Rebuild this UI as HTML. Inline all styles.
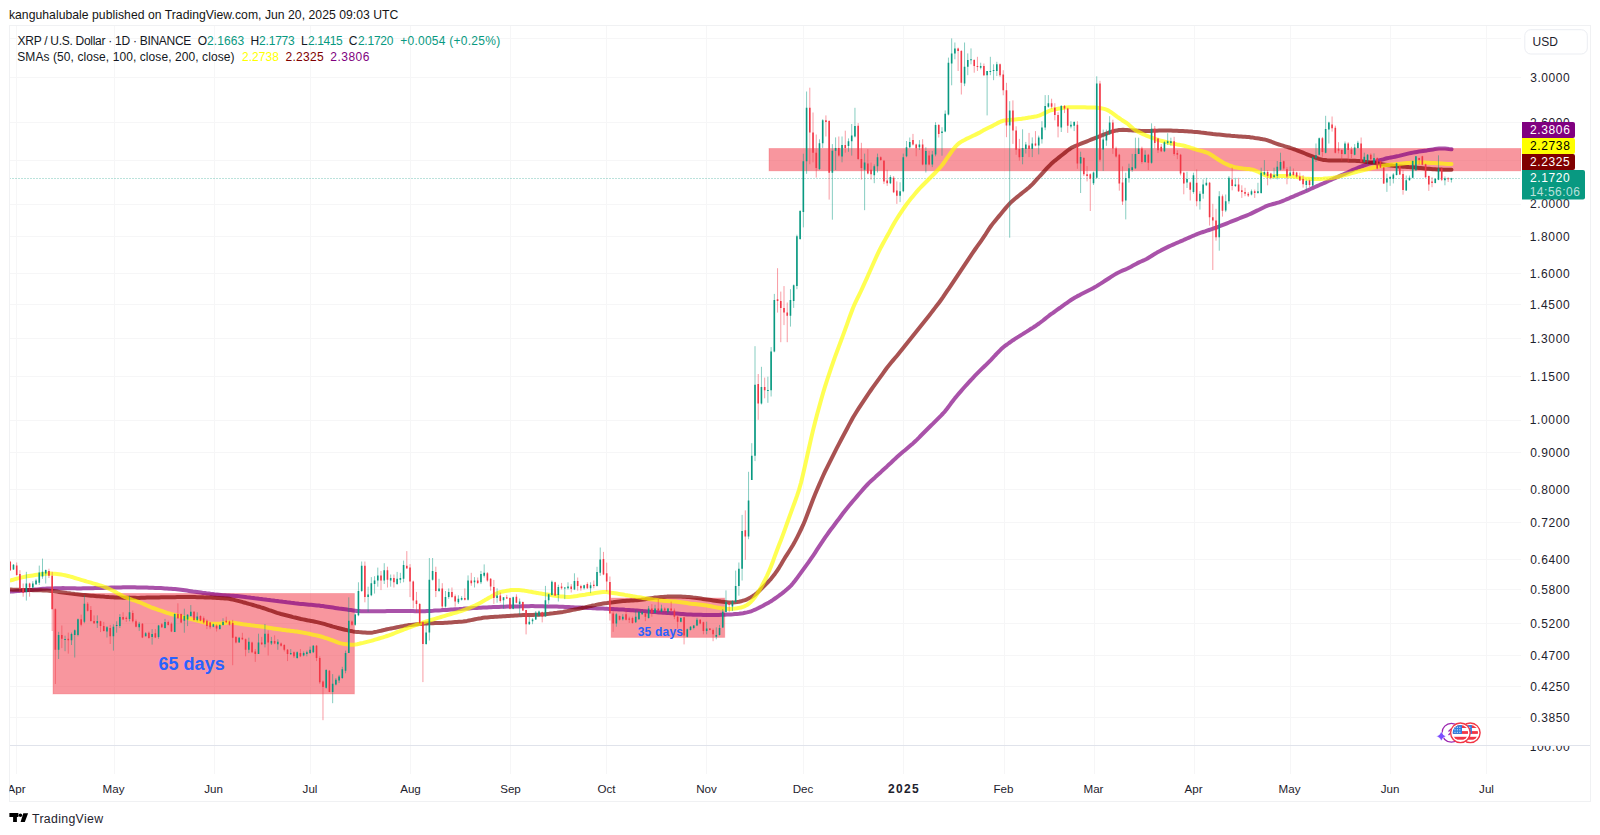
<!DOCTYPE html>
<html><head><meta charset="utf-8"><style>
html,body{margin:0;padding:0;background:#fff;}
body{width:1600px;height:835px;overflow:hidden;position:relative;font-family:'Liberation Sans',sans-serif;}
</style></head><body>
<svg width="1600" height="835" viewBox="0 0 1600 835" style="position:absolute;left:0;top:0;font-family:'Liberation Sans',sans-serif">
<rect width="1600" height="835" fill="#ffffff"/>
<defs><clipPath id="pane"><rect x="9.5" y="25.5" width="1511.5" height="720"/></clipPath><clipPath id="pane2"><rect x="9.5" y="746" width="1581" height="28"/></clipPath></defs>
<text x="8.93" y="19.2" font-size="12.2" fill="#141414" textLength="389.44" lengthAdjust="spacing" >kanguhalubale published on TradingView.com, Jun 20, 2025 09:03 UTC</text>
<path d="M9.5 38.5H1521 M9.5 77.5H1521 M9.5 122.5H1521 M9.5 160.5H1521 M9.5 204.5H1521 M9.5 236.5H1521 M9.5 273.5H1521 M9.5 304.5H1521 M9.5 338.5H1521 M9.5 376.5H1521 M9.5 420.5H1521 M9.5 452.5H1521 M9.5 489.5H1521 M9.5 522.5H1521 M9.5 559.5H1521 M9.5 589.5H1521 M9.5 623.5H1521 M9.5 655.5H1521 M9.5 686.5H1521 M9.5 717.5H1521 M16.5 25.5V774 M114.5 25.5V774 M214.5 25.5V774 M310.5 25.5V774 M410.5 25.5V774 M510.5 25.5V774 M606.5 25.5V774 M706.5 25.5V774 M803.5 25.5V774 M903.5 25.5V774 M1004.5 25.5V774 M1094.5 25.5V774 M1194.5 25.5V774 M1290.5 25.5V774 M1390.5 25.5V774 M1486.5 25.5V774" stroke="#F6F6F7" stroke-width="1" fill="none"/>
<g clip-path="url(#pane)">
<rect x="53" y="593.5" width="301.4" height="100.4" fill="rgba(242,54,69,0.52)" stroke="rgba(242,54,69,0.25)" stroke-width="1"/>
<rect x="611.2" y="598.1" width="113.5" height="39.3" fill="rgba(242,54,69,0.52)" stroke="rgba(242,54,69,0.25)" stroke-width="1"/>
<rect x="769" y="148.5" width="752" height="22.3" fill="rgba(242,54,69,0.52)" stroke="rgba(242,54,69,0.25)" stroke-width="1"/>
<path d="M9.5 178.5H1521" stroke="#089981" stroke-width="1" stroke-dasharray="1 2" opacity="0.55"/>
<polyline points="9.0,591.7 11.0,591.6 13.0,591.5 15.0,591.3 17.0,591.1 19.0,591.0 21.0,590.8 23.0,590.7 25.0,590.5 27.0,590.3 29.0,590.1 31.0,589.9 33.0,589.7 35.0,589.5 37.0,589.4 39.0,589.2 41.0,589.0 43.0,588.8 45.0,588.7 47.0,588.6 49.0,588.5 51.0,588.4 53.0,588.4 55.0,588.3 57.0,588.2 59.0,588.2 61.0,588.2 63.0,588.1 65.0,588.2 67.0,588.2 69.0,588.2 71.0,588.3 73.0,588.3 75.0,588.3 77.0,588.4 79.0,588.4 81.0,588.4 83.0,588.3 85.0,588.3 87.0,588.3 89.0,588.2 91.0,588.2 93.0,588.2 95.0,588.1 97.0,588.1 99.0,588.0 101.0,587.9 103.0,587.9 105.0,587.8 107.0,587.7 109.0,587.7 111.0,587.6 113.0,587.5 115.0,587.5 117.0,587.4 119.0,587.4 121.0,587.4 123.0,587.3 125.0,587.3 127.0,587.3 129.0,587.2 131.0,587.2 133.0,587.3 135.0,587.3 137.0,587.4 139.0,587.4 141.0,587.5 143.0,587.5 145.0,587.6 147.0,587.6 149.0,587.7 151.0,587.8 153.0,587.8 155.0,587.9 157.0,587.9 159.0,588.0 161.0,588.1 163.0,588.2 165.0,588.4 167.0,588.5 169.0,588.7 171.0,588.8 173.0,589.0 175.0,589.1 177.0,589.3 179.0,589.5 181.0,589.7 183.0,590.0 185.0,590.3 187.0,590.6 189.0,590.9 191.0,591.2 193.0,591.5 195.0,591.7 197.0,592.0 199.0,592.3 201.0,592.6 203.0,592.9 205.0,593.1 207.0,593.4 209.0,593.6 211.0,593.9 213.0,594.1 215.0,594.4 217.0,594.6 219.0,594.8 221.0,595.0 223.0,595.2 225.0,595.3 227.0,595.5 229.0,595.6 231.0,595.7 233.0,595.8 235.0,596.0 237.0,596.1 239.0,596.3 241.0,596.5 243.0,596.7 245.0,596.9 247.0,597.2 249.0,597.4 251.0,597.7 253.0,597.9 255.0,598.2 257.0,598.4 259.0,598.7 261.0,598.9 263.0,599.2 265.0,599.4 267.0,599.7 269.0,599.9 271.0,600.2 273.0,600.4 275.0,600.7 277.0,600.9 279.0,601.2 281.0,601.4 283.0,601.7 285.0,601.9 287.0,602.2 289.0,602.4 291.0,602.7 293.0,602.9 295.0,603.2 297.0,603.4 299.0,603.7 301.0,603.9 303.0,604.1 305.0,604.3 307.0,604.5 309.0,604.7 311.0,604.8 313.0,605.0 315.0,605.2 317.0,605.4 319.0,605.6 321.0,605.9 323.0,606.1 325.0,606.4 327.0,606.7 329.0,607.0 331.0,607.3 333.0,607.6 335.0,607.9 337.0,608.2 339.0,608.5 341.0,608.7 343.0,609.0 345.0,609.3 347.0,609.6 349.0,609.9 351.0,610.1 353.0,610.4 355.0,610.7 357.0,611.0 359.0,611.1 361.0,611.3 363.0,611.3 365.0,611.3 367.0,611.3 369.0,611.3 371.0,611.3 373.0,611.3 375.0,611.3 377.0,611.3 379.0,611.3 381.0,611.2 383.0,611.2 385.0,611.2 387.0,611.1 389.0,611.1 391.0,611.0 393.0,611.0 395.0,611.0 397.0,610.9 399.0,610.9 401.0,611.0 403.0,611.0 405.0,611.0 407.0,611.0 409.0,611.1 411.0,611.1 413.0,611.1 415.0,611.2 417.0,611.2 419.0,611.2 421.0,611.2 423.0,611.2 425.0,611.2 427.0,611.1 429.0,611.0 431.0,610.9 433.0,610.8 435.0,610.6 437.0,610.5 439.0,610.4 441.0,610.3 443.0,610.1 445.0,610.0 447.0,609.9 449.0,609.7 451.0,609.6 453.0,609.5 455.0,609.3 457.0,609.2 459.0,609.1 461.0,608.9 463.0,608.8 465.0,608.6 467.0,608.5 469.0,608.4 471.0,608.2 473.0,608.1 475.0,608.0 477.0,607.9 479.0,607.8 481.0,607.7 483.0,607.6 485.0,607.5 487.0,607.4 489.0,607.3 491.0,607.2 493.0,607.1 495.0,607.1 497.0,607.0 499.0,606.9 501.0,606.8 503.0,606.7 505.0,606.7 507.0,606.6 509.0,606.6 511.0,606.5 513.0,606.5 515.0,606.4 517.0,606.4 519.0,606.4 521.0,606.3 523.0,606.3 525.0,606.2 527.0,606.2 529.0,606.2 531.0,606.1 533.0,606.1 535.0,606.2 537.0,606.2 539.0,606.3 541.0,606.3 543.0,606.3 545.0,606.4 547.0,606.4 549.0,606.5 551.0,606.5 553.0,606.5 555.0,606.6 557.0,606.6 559.0,606.7 561.0,606.7 563.0,606.8 565.0,606.9 567.0,607.0 569.0,607.1 571.0,607.2 573.0,607.3 575.0,607.4 577.0,607.5 579.0,607.5 581.0,607.6 583.0,607.7 585.0,607.8 587.0,607.9 589.0,608.0 591.0,608.1 593.0,608.2 595.0,608.3 597.0,608.4 599.0,608.4 601.0,608.5 603.0,608.6 605.0,608.7 607.0,608.8 609.0,608.9 611.0,609.0 613.0,609.1 615.0,609.2 617.0,609.3 619.0,609.4 621.0,609.5 623.0,609.6 625.0,609.8 627.0,609.9 629.0,610.0 631.0,610.2 633.0,610.3 635.0,610.5 637.0,610.6 639.0,610.7 641.0,610.9 643.0,611.1 645.0,611.2 647.0,611.4 649.0,611.6 651.0,611.7 653.0,611.9 655.0,612.1 657.0,612.2 659.0,612.4 661.0,612.6 663.0,612.7 665.0,612.8 667.0,613.0 669.0,613.1 671.0,613.2 673.0,613.3 675.0,613.5 677.0,613.6 679.0,613.7 681.0,613.9 683.0,614.0 685.0,614.2 687.0,614.4 689.0,614.5 691.0,614.6 693.0,614.7 695.0,614.7 697.0,614.7 699.0,614.8 701.0,614.8 703.0,614.9 705.0,614.9 707.0,614.9 709.0,615.0 711.0,615.0 713.0,615.0 715.0,614.9 717.0,614.9 719.0,614.9 721.0,614.8 723.0,614.8 725.0,614.7 727.0,614.6 729.0,614.5 731.0,614.4 733.0,614.3 735.0,614.1 737.0,613.9 739.0,613.7 741.0,613.4 743.0,613.2 745.0,612.8 747.0,612.4 749.0,611.9 751.0,611.3 753.0,610.5 755.0,609.7 757.0,608.8 759.0,607.8 761.0,606.7 763.0,605.7 765.0,604.6 767.0,603.5 769.0,602.4 771.0,601.2 773.0,599.9 775.0,598.5 777.0,597.1 779.0,595.7 781.0,594.2 783.0,592.6 785.0,591.0 787.0,589.3 789.0,587.5 791.0,585.6 793.0,583.3 795.0,580.8 797.0,578.1 799.0,575.4 801.0,572.6 803.0,569.9 805.0,567.1 807.0,564.4 809.0,561.6 811.0,558.7 813.0,555.8 815.0,552.8 817.0,549.7 819.0,546.7 821.0,543.7 823.0,540.7 825.0,537.7 827.0,534.8 829.0,532.0 831.0,529.3 833.0,526.7 835.0,524.0 837.0,521.3 839.0,518.7 841.0,516.0 843.0,513.3 845.0,510.7 847.0,508.2 849.0,505.7 851.0,503.4 853.0,501.0 855.0,498.7 857.0,496.4 859.0,494.0 861.0,491.7 863.0,489.4 865.0,487.1 867.0,485.0 869.0,482.9 871.0,481.0 873.0,479.2 875.0,477.4 877.0,475.5 879.0,473.7 881.0,471.9 883.0,470.0 885.0,468.2 887.0,466.4 889.0,464.5 891.0,462.7 893.0,460.8 895.0,458.9 897.0,457.1 899.0,455.3 901.0,453.5 903.0,451.8 905.0,450.2 907.0,448.5 909.0,446.8 911.0,445.1 913.0,443.4 915.0,441.5 917.0,439.6 919.0,437.6 921.0,435.5 923.0,433.5 925.0,431.5 927.0,429.5 929.0,427.5 931.0,425.5 933.0,423.6 935.0,421.6 937.0,419.6 939.0,417.6 941.0,415.6 943.0,413.5 945.0,411.3 947.0,408.8 949.0,406.1 951.0,403.3 953.0,400.7 955.0,398.1 957.0,395.7 959.0,393.4 961.0,391.1 963.0,388.8 965.0,386.5 967.0,384.3 969.0,382.1 971.0,380.0 973.0,377.8 975.0,375.7 977.0,373.7 979.0,371.7 981.0,369.7 983.0,367.7 985.0,365.8 987.0,363.8 989.0,361.8 991.0,359.8 993.0,357.7 995.0,355.5 997.0,353.4 999.0,351.3 1001.0,349.3 1003.0,347.5 1005.0,345.9 1007.0,344.5 1009.0,343.0 1011.0,341.6 1013.0,340.2 1015.0,338.9 1017.0,337.6 1019.0,336.4 1021.0,335.1 1023.0,333.9 1025.0,332.6 1027.0,331.4 1029.0,330.1 1031.0,328.8 1033.0,327.6 1035.0,326.3 1037.0,324.9 1039.0,323.5 1041.0,322.0 1043.0,320.5 1045.0,318.9 1047.0,317.3 1049.0,315.7 1051.0,314.2 1053.0,312.8 1055.0,311.3 1057.0,309.9 1059.0,308.5 1061.0,307.1 1063.0,305.6 1065.0,304.2 1067.0,302.8 1069.0,301.4 1071.0,300.0 1073.0,298.7 1075.0,297.5 1077.0,296.4 1079.0,295.4 1081.0,294.3 1083.0,293.3 1085.0,292.3 1087.0,291.3 1089.0,290.3 1091.0,289.3 1093.0,288.2 1095.0,287.1 1097.0,285.9 1099.0,284.6 1101.0,283.4 1103.0,282.1 1105.0,280.8 1107.0,279.5 1109.0,278.2 1111.0,276.9 1113.0,275.6 1115.0,274.4 1117.0,273.2 1119.0,272.2 1121.0,271.3 1123.0,270.4 1125.0,269.6 1127.0,268.7 1129.0,267.7 1131.0,266.7 1133.0,265.6 1135.0,264.5 1137.0,263.4 1139.0,262.4 1141.0,261.5 1143.0,260.6 1145.0,259.7 1147.0,258.7 1149.0,257.5 1151.0,256.3 1153.0,255.0 1155.0,253.8 1157.0,252.6 1159.0,251.5 1161.0,250.4 1163.0,249.4 1165.0,248.4 1167.0,247.4 1169.0,246.4 1171.0,245.5 1173.0,244.6 1175.0,243.7 1177.0,242.8 1179.0,242.0 1181.0,241.1 1183.0,240.3 1185.0,239.4 1187.0,238.5 1189.0,237.6 1191.0,236.7 1193.0,235.8 1195.0,235.0 1197.0,234.1 1199.0,233.4 1201.0,232.7 1203.0,232.0 1205.0,231.4 1207.0,230.7 1209.0,230.0 1211.0,229.3 1213.0,228.7 1215.0,228.0 1217.0,227.3 1219.0,226.5 1221.0,225.7 1223.0,224.9 1225.0,224.1 1227.0,223.3 1229.0,222.5 1231.0,221.7 1233.0,220.9 1235.0,220.1 1237.0,219.3 1239.0,218.5 1241.0,217.7 1243.0,216.9 1245.0,216.1 1247.0,215.3 1249.0,214.5 1251.0,213.6 1253.0,212.6 1255.0,211.6 1257.0,210.6 1259.0,209.7 1261.0,208.7 1263.0,207.7 1265.0,206.7 1267.0,205.9 1269.0,205.2 1271.0,204.6 1273.0,204.0 1275.0,203.5 1277.0,202.9 1279.0,202.3 1281.0,201.6 1283.0,200.8 1285.0,200.0 1287.0,199.1 1289.0,198.3 1291.0,197.4 1293.0,196.6 1295.0,195.7 1297.0,194.9 1299.0,194.0 1301.0,193.2 1303.0,192.3 1305.0,191.5 1307.0,190.6 1309.0,189.7 1311.0,188.8 1313.0,187.9 1315.0,187.0 1317.0,186.1 1319.0,185.2 1321.0,184.3 1323.0,183.5 1325.0,182.6 1327.0,181.7 1329.0,180.8 1331.0,179.9 1333.0,179.0 1335.0,178.1 1337.0,177.2 1339.0,176.3 1341.0,175.4 1343.0,174.5 1345.0,173.6 1347.0,172.7 1349.0,171.8 1351.0,170.9 1353.0,169.9 1355.0,169.1 1357.0,168.2 1359.0,167.3 1361.0,166.6 1363.0,165.8 1365.0,165.1 1367.0,164.4 1369.0,163.7 1371.0,163.0 1373.0,162.4 1375.0,161.8 1377.0,161.1 1379.0,160.5 1381.0,159.9 1383.0,159.4 1385.0,158.8 1387.0,158.3 1389.0,157.9 1391.0,157.5 1393.0,157.1 1395.0,156.7 1397.0,156.3 1399.0,155.9 1401.0,155.4 1403.0,154.9 1405.0,154.4 1407.0,153.9 1409.0,153.4 1411.0,153.0 1413.0,152.6 1415.0,152.2 1417.0,151.9 1419.0,151.6 1421.0,151.3 1423.0,151.0 1425.0,150.7 1427.0,150.4 1429.0,150.0 1431.0,149.7 1433.0,149.4 1435.0,149.1 1437.0,148.8 1439.0,148.6 1441.0,148.5 1443.0,148.4 1445.0,148.5 1447.0,148.7 1449.0,149.0 1451.0,149.2 1451.5,149.3" fill="none" stroke="#800080" stroke-opacity="0.68" stroke-width="4" stroke-linejoin="round" stroke-linecap="round"/>
<polyline points="9.0,589.6 11.0,589.6 13.0,589.7 15.0,589.7 17.0,589.8 19.0,589.8 21.0,589.9 23.0,589.9 25.0,590.0 27.0,590.0 29.0,590.1 31.0,590.1 33.0,590.2 35.0,590.2 37.0,590.2 39.0,590.3 41.0,590.3 43.0,590.4 45.0,590.5 47.0,590.6 49.0,590.7 51.0,590.9 53.0,591.0 55.0,591.3 57.0,591.6 59.0,591.9 61.0,592.2 63.0,592.5 65.0,592.8 67.0,593.1 69.0,593.3 71.0,593.6 73.0,593.8 75.0,594.1 77.0,594.3 79.0,594.5 81.0,594.7 83.0,594.9 85.0,595.1 87.0,595.3 89.0,595.5 91.0,595.7 93.0,595.8 95.0,596.0 97.0,596.2 99.0,596.3 101.0,596.5 103.0,596.6 105.0,596.8 107.0,596.9 109.0,597.1 111.0,597.2 113.0,597.3 115.0,597.4 117.0,597.5 119.0,597.6 121.0,597.6 123.0,597.7 125.0,597.7 127.0,597.8 129.0,597.8 131.0,597.8 133.0,597.8 135.0,597.8 137.0,597.9 139.0,597.9 141.0,597.8 143.0,597.8 145.0,597.7 147.0,597.6 149.0,597.6 151.0,597.5 153.0,597.5 155.0,597.4 157.0,597.4 159.0,597.4 161.0,597.3 163.0,597.3 165.0,597.3 167.0,597.2 169.0,597.2 171.0,597.2 173.0,597.2 175.0,597.2 177.0,597.1 179.0,597.1 181.0,597.1 183.0,597.1 185.0,597.1 187.0,597.0 189.0,597.0 191.0,597.0 193.0,597.1 195.0,597.1 197.0,597.2 199.0,597.2 201.0,597.3 203.0,597.3 205.0,597.4 207.0,597.4 209.0,597.5 211.0,597.6 213.0,597.7 215.0,597.8 217.0,598.0 219.0,598.1 221.0,598.2 223.0,598.3 225.0,598.5 227.0,598.6 229.0,598.8 231.0,599.2 233.0,599.6 235.0,600.1 237.0,600.6 239.0,601.1 241.0,601.6 243.0,602.2 245.0,602.7 247.0,603.3 249.0,603.9 251.0,604.4 253.0,605.0 255.0,605.6 257.0,606.2 259.0,606.7 261.0,607.4 263.0,608.0 265.0,608.7 267.0,609.4 269.0,610.1 271.0,610.7 273.0,611.4 275.0,612.1 277.0,612.8 279.0,613.4 281.0,614.0 283.0,614.5 285.0,615.0 287.0,615.5 289.0,616.0 291.0,616.5 293.0,617.1 295.0,617.5 297.0,618.0 299.0,618.5 301.0,619.0 303.0,619.4 305.0,619.8 307.0,620.2 309.0,620.6 311.0,620.9 313.0,621.3 315.0,621.7 317.0,622.1 319.0,622.6 321.0,623.1 323.0,623.6 325.0,624.2 327.0,624.8 329.0,625.4 331.0,626.0 333.0,626.6 335.0,627.1 337.0,627.7 339.0,628.2 341.0,628.7 343.0,629.2 345.0,629.7 347.0,630.1 349.0,630.6 351.0,631.0 353.0,631.4 355.0,631.7 357.0,631.9 359.0,632.1 361.0,632.2 363.0,632.4 365.0,632.5 367.0,632.7 369.0,632.8 371.0,632.7 373.0,632.4 375.0,632.0 377.0,631.6 379.0,631.1 381.0,630.7 383.0,630.2 385.0,629.8 387.0,629.3 389.0,628.9 391.0,628.5 393.0,628.1 395.0,627.7 397.0,627.3 399.0,626.9 401.0,626.5 403.0,626.1 405.0,625.7 407.0,625.4 409.0,625.1 411.0,624.9 413.0,624.7 415.0,624.5 417.0,624.3 419.0,624.1 421.0,623.9 423.0,623.7 425.0,623.6 427.0,623.4 429.0,623.3 431.0,623.3 433.0,623.2 435.0,623.1 437.0,623.1 439.0,623.0 441.0,622.9 443.0,622.9 445.0,622.8 447.0,622.7 449.0,622.5 451.0,622.4 453.0,622.2 455.0,622.1 457.0,622.0 459.0,621.8 461.0,621.7 463.0,621.5 465.0,621.2 467.0,620.9 469.0,620.5 471.0,620.1 473.0,619.7 475.0,619.3 477.0,618.9 479.0,618.5 481.0,618.2 483.0,617.8 485.0,617.6 487.0,617.4 489.0,617.2 491.0,617.1 493.0,617.0 495.0,616.8 497.0,616.7 499.0,616.6 501.0,616.4 503.0,616.3 505.0,616.2 507.0,616.0 509.0,615.9 511.0,615.8 513.0,615.7 515.0,615.5 517.0,615.4 519.0,615.3 521.0,615.2 523.0,615.1 525.0,615.0 527.0,615.0 529.0,615.0 531.0,614.9 533.0,614.9 535.0,614.8 537.0,614.8 539.0,614.7 541.0,614.6 543.0,614.5 545.0,614.2 547.0,614.0 549.0,613.8 551.0,613.5 553.0,613.3 555.0,613.0 557.0,612.8 559.0,612.5 561.0,612.2 563.0,611.9 565.0,611.5 567.0,611.1 569.0,610.7 571.0,610.3 573.0,609.9 575.0,609.5 577.0,609.1 579.0,608.7 581.0,608.3 583.0,607.8 585.0,607.4 587.0,606.9 589.0,606.4 591.0,606.0 593.0,605.5 595.0,605.1 597.0,604.6 599.0,604.2 601.0,603.9 603.0,603.6 605.0,603.3 607.0,603.1 609.0,602.8 611.0,602.5 613.0,602.3 615.0,602.0 617.0,601.7 619.0,601.5 621.0,601.3 623.0,601.1 625.0,601.0 627.0,600.8 629.0,600.7 631.0,600.6 633.0,600.5 635.0,600.3 637.0,600.2 639.0,600.0 641.0,599.8 643.0,599.5 645.0,599.2 647.0,598.8 649.0,598.5 651.0,598.2 653.0,597.9 655.0,597.6 657.0,597.4 659.0,597.2 661.0,597.0 663.0,596.9 665.0,596.7 667.0,596.6 669.0,596.4 671.0,596.4 673.0,596.4 675.0,596.5 677.0,596.5 679.0,596.6 681.0,596.6 683.0,596.7 685.0,596.8 687.0,596.9 689.0,597.0 691.0,597.2 693.0,597.5 695.0,597.7 697.0,598.0 699.0,598.3 701.0,598.6 703.0,598.9 705.0,599.2 707.0,599.5 709.0,599.8 711.0,600.1 713.0,600.4 715.0,600.7 717.0,601.0 719.0,601.3 721.0,601.6 723.0,601.8 725.0,602.0 727.0,602.2 729.0,602.4 731.0,602.4 733.0,602.4 735.0,602.3 737.0,602.1 739.0,601.8 741.0,601.3 743.0,600.7 745.0,600.1 747.0,599.3 749.0,598.3 751.0,597.2 753.0,596.0 755.0,594.6 757.0,593.0 759.0,591.1 761.0,589.1 763.0,587.1 765.0,585.1 767.0,583.1 769.0,581.0 771.0,578.8 773.0,576.3 775.0,573.7 777.0,570.8 779.0,567.8 781.0,564.5 783.0,561.0 785.0,557.7 787.0,554.6 789.0,551.5 791.0,548.3 793.0,545.0 795.0,541.4 797.0,537.6 799.0,533.6 801.0,529.5 803.0,525.2 805.0,520.4 807.0,515.3 809.0,510.0 811.0,504.7 813.0,499.5 815.0,494.6 817.0,489.8 819.0,485.1 821.0,480.5 823.0,476.0 825.0,471.7 827.0,467.6 829.0,463.6 831.0,459.6 833.0,455.6 835.0,451.6 837.0,447.7 839.0,443.8 841.0,440.0 843.0,436.2 845.0,432.5 847.0,428.7 849.0,424.9 851.0,421.2 853.0,417.5 855.0,414.2 857.0,411.0 859.0,407.9 861.0,404.8 863.0,401.8 865.0,398.8 867.0,395.8 869.0,392.9 871.0,390.0 873.0,387.2 875.0,384.4 877.0,381.6 879.0,378.9 881.0,376.1 883.0,373.3 885.0,370.5 887.0,367.8 889.0,365.3 891.0,362.8 893.0,360.4 895.0,358.0 897.0,355.7 899.0,353.3 901.0,350.8 903.0,348.3 905.0,345.8 907.0,343.3 909.0,340.8 911.0,338.3 913.0,335.7 915.0,333.2 917.0,330.7 919.0,328.2 921.0,325.7 923.0,323.2 925.0,320.7 927.0,318.2 929.0,315.7 931.0,313.1 933.0,310.5 935.0,307.9 937.0,305.3 939.0,302.7 941.0,300.0 943.0,297.2 945.0,294.2 947.0,291.2 949.0,288.3 951.0,285.3 953.0,282.3 955.0,279.3 957.0,276.3 959.0,273.3 961.0,270.3 963.0,267.3 965.0,264.3 967.0,261.3 969.0,258.3 971.0,255.3 973.0,252.4 975.0,249.5 977.0,246.7 979.0,243.9 981.0,241.1 983.0,238.2 985.0,235.2 987.0,232.0 989.0,228.9 991.0,226.0 993.0,223.4 995.0,220.9 997.0,218.5 999.0,216.1 1001.0,213.7 1003.0,211.3 1005.0,208.9 1007.0,206.5 1009.0,204.3 1011.0,202.2 1013.0,200.4 1015.0,198.7 1017.0,197.1 1019.0,195.5 1021.0,193.9 1023.0,192.3 1025.0,190.7 1027.0,189.1 1029.0,187.4 1031.0,185.6 1033.0,183.6 1035.0,181.4 1037.0,179.2 1039.0,177.0 1041.0,174.8 1043.0,172.6 1045.0,170.4 1047.0,168.2 1049.0,166.1 1051.0,164.1 1053.0,162.3 1055.0,160.6 1057.0,159.0 1059.0,157.4 1061.0,155.8 1063.0,154.2 1065.0,152.6 1067.0,151.0 1069.0,149.5 1071.0,148.1 1073.0,147.0 1075.0,146.1 1077.0,145.3 1079.0,144.5 1081.0,143.7 1083.0,142.9 1085.0,142.1 1087.0,141.3 1089.0,140.5 1091.0,139.7 1093.0,138.9 1095.0,138.1 1097.0,137.3 1099.0,136.5 1101.0,135.7 1103.0,134.9 1105.0,134.1 1107.0,133.3 1109.0,132.5 1111.0,131.8 1113.0,131.2 1115.0,130.8 1117.0,130.4 1119.0,130.1 1121.0,129.9 1123.0,129.8 1125.0,129.9 1127.0,130.0 1129.0,130.2 1131.0,130.3 1133.0,130.4 1135.0,130.5 1137.0,130.7 1139.0,130.8 1141.0,130.9 1143.0,131.0 1145.0,131.0 1147.0,131.0 1149.0,130.9 1151.0,130.9 1153.0,130.8 1155.0,130.7 1157.0,130.7 1159.0,130.6 1161.0,130.6 1163.0,130.6 1165.0,130.6 1167.0,130.6 1169.0,130.6 1171.0,130.6 1173.0,130.7 1175.0,130.7 1177.0,130.8 1179.0,130.9 1181.0,131.0 1183.0,131.1 1185.0,131.2 1187.0,131.3 1189.0,131.5 1191.0,131.6 1193.0,131.8 1195.0,131.9 1197.0,132.1 1199.0,132.3 1201.0,132.6 1203.0,132.8 1205.0,133.0 1207.0,133.3 1209.0,133.5 1211.0,133.7 1213.0,134.0 1215.0,134.2 1217.0,134.4 1219.0,134.6 1221.0,134.8 1223.0,135.0 1225.0,135.2 1227.0,135.4 1229.0,135.6 1231.0,135.8 1233.0,135.9 1235.0,136.1 1237.0,136.2 1239.0,136.4 1241.0,136.5 1243.0,136.7 1245.0,136.8 1247.0,137.0 1249.0,137.1 1251.0,137.4 1253.0,137.6 1255.0,138.0 1257.0,138.3 1259.0,138.6 1261.0,138.9 1263.0,139.3 1265.0,139.6 1267.0,140.1 1269.0,140.8 1271.0,141.5 1273.0,142.3 1275.0,143.1 1277.0,143.8 1279.0,144.5 1281.0,145.1 1283.0,145.7 1285.0,146.3 1287.0,146.9 1289.0,147.5 1291.0,148.2 1293.0,148.8 1295.0,149.5 1297.0,150.3 1299.0,151.1 1301.0,151.9 1303.0,152.7 1305.0,153.5 1307.0,154.3 1309.0,155.1 1311.0,155.9 1313.0,156.7 1315.0,157.5 1317.0,158.2 1319.0,158.9 1321.0,159.4 1323.0,159.9 1325.0,160.1 1327.0,160.3 1329.0,160.4 1331.0,160.5 1333.0,160.6 1335.0,160.6 1337.0,160.6 1339.0,160.6 1341.0,160.6 1343.0,160.6 1345.0,160.6 1347.0,160.6 1349.0,160.7 1351.0,160.7 1353.0,160.8 1355.0,160.8 1357.0,160.9 1359.0,161.0 1361.0,161.2 1363.0,161.4 1365.0,161.7 1367.0,161.9 1369.0,162.2 1371.0,162.5 1373.0,162.8 1375.0,163.1 1377.0,163.4 1379.0,163.7 1381.0,164.1 1383.0,164.4 1385.0,164.7 1387.0,165.0 1389.0,165.3 1391.0,165.5 1393.0,165.8 1395.0,166.0 1397.0,166.3 1399.0,166.5 1401.0,166.6 1403.0,166.7 1405.0,166.8 1407.0,166.9 1409.0,167.1 1411.0,167.2 1413.0,167.3 1415.0,167.5 1417.0,167.7 1419.0,167.9 1421.0,168.1 1423.0,168.3 1425.0,168.5 1427.0,168.7 1429.0,168.8 1431.0,169.0 1433.0,169.2 1435.0,169.3 1437.0,169.5 1439.0,169.6 1441.0,169.6 1443.0,169.7 1445.0,169.7 1447.0,169.7 1449.0,169.8 1451.0,169.8 1451.5,169.8" fill="none" stroke="#800000" stroke-opacity="0.68" stroke-width="4" stroke-linejoin="round" stroke-linecap="round"/>
<polyline points="9.0,580.6 11.0,580.3 13.0,579.8 15.0,579.2 17.0,578.6 19.0,578.1 21.0,577.6 23.0,577.1 25.0,576.7 27.0,576.3 29.0,576.0 31.0,575.7 33.0,575.4 35.0,575.1 37.0,574.8 39.0,574.5 41.0,574.2 43.0,574.0 45.0,573.8 47.0,573.7 49.0,573.6 51.0,573.6 53.0,573.7 55.0,573.8 57.0,574.0 59.0,574.2 61.0,574.5 63.0,574.9 65.0,575.3 67.0,575.7 69.0,576.2 71.0,576.8 73.0,577.3 75.0,578.0 77.0,578.6 79.0,579.2 81.0,579.8 83.0,580.4 85.0,581.0 87.0,581.6 89.0,582.1 91.0,582.7 93.0,583.3 95.0,583.9 97.0,584.5 99.0,585.1 101.0,585.7 103.0,586.4 105.0,587.1 107.0,587.9 109.0,588.8 111.0,589.7 113.0,590.7 115.0,591.7 117.0,592.9 119.0,594.0 121.0,595.1 123.0,596.2 125.0,597.1 127.0,597.9 129.0,598.7 131.0,599.4 133.0,600.1 135.0,600.7 137.0,601.3 139.0,602.0 141.0,602.8 143.0,603.7 145.0,604.6 147.0,605.5 149.0,606.4 151.0,607.3 153.0,608.0 155.0,608.7 157.0,609.4 159.0,610.1 161.0,610.7 163.0,611.4 165.0,612.1 167.0,612.8 169.0,613.4 171.0,614.0 173.0,614.5 175.0,615.0 177.0,615.5 179.0,616.0 181.0,616.5 183.0,617.1 185.0,617.6 187.0,618.1 189.0,618.6 191.0,619.1 193.0,619.6 195.0,620.1 197.0,620.6 199.0,621.1 201.0,621.6 203.0,622.1 205.0,622.5 207.0,623.0 209.0,623.4 211.0,623.7 213.0,623.8 215.0,623.8 217.0,623.8 219.0,623.7 221.0,623.5 223.0,623.2 225.0,622.9 227.0,622.6 229.0,622.4 231.0,622.4 233.0,622.6 235.0,622.9 237.0,623.3 239.0,623.6 241.0,623.9 243.0,624.2 245.0,624.4 247.0,624.7 249.0,624.9 251.0,625.2 253.0,625.4 255.0,625.7 257.0,625.9 259.0,626.2 261.0,626.5 263.0,626.8 265.0,627.1 267.0,627.4 269.0,627.7 271.0,628.1 273.0,628.4 275.0,628.7 277.0,629.0 279.0,629.3 281.0,629.6 283.0,629.9 285.0,630.1 287.0,630.4 289.0,630.6 291.0,630.9 293.0,631.1 295.0,631.4 297.0,631.6 299.0,631.9 301.0,632.2 303.0,632.6 305.0,633.0 307.0,633.4 309.0,633.8 311.0,634.3 313.0,634.7 315.0,635.1 317.0,635.5 319.0,636.0 321.0,636.5 323.0,637.1 325.0,637.8 327.0,638.4 329.0,639.1 331.0,639.8 333.0,640.5 335.0,641.3 337.0,642.1 339.0,642.8 341.0,643.4 343.0,643.8 345.0,644.1 347.0,644.3 349.0,644.5 351.0,644.7 353.0,644.7 355.0,644.5 357.0,644.2 359.0,643.8 361.0,643.3 363.0,642.9 365.0,642.4 367.0,641.9 369.0,641.4 371.0,640.9 373.0,640.3 375.0,639.7 377.0,639.1 379.0,638.5 381.0,637.9 383.0,637.3 385.0,636.7 387.0,636.0 389.0,635.3 391.0,634.6 393.0,633.8 395.0,633.0 397.0,632.2 399.0,631.4 401.0,630.6 403.0,629.8 405.0,629.0 407.0,628.3 409.0,627.5 411.0,626.8 413.0,626.1 415.0,625.4 417.0,624.7 419.0,624.0 421.0,623.3 423.0,622.5 425.0,621.9 427.0,621.2 429.0,620.6 431.0,620.0 433.0,619.4 435.0,618.8 437.0,618.2 439.0,617.6 441.0,617.0 443.0,616.4 445.0,615.8 447.0,615.2 449.0,614.6 451.0,614.0 453.0,613.4 455.0,612.9 457.0,612.3 459.0,611.7 461.0,611.1 463.0,610.4 465.0,609.7 467.0,608.9 469.0,608.1 471.0,607.2 473.0,606.4 475.0,605.5 477.0,604.5 479.0,603.5 481.0,602.4 483.0,601.3 485.0,600.1 487.0,599.0 489.0,597.8 491.0,596.7 493.0,595.5 495.0,594.4 497.0,593.4 499.0,592.5 501.0,591.9 503.0,591.5 505.0,591.1 507.0,590.7 509.0,590.4 511.0,590.1 513.0,590.0 515.0,589.9 517.0,590.0 519.0,590.1 521.0,590.2 523.0,590.4 525.0,590.8 527.0,591.1 529.0,591.5 531.0,591.8 533.0,592.2 535.0,592.6 537.0,592.9 539.0,593.3 541.0,593.6 543.0,593.9 545.0,594.3 547.0,594.5 549.0,594.8 551.0,595.1 553.0,595.4 555.0,595.7 557.0,596.0 559.0,596.3 561.0,596.5 563.0,596.6 565.0,596.8 567.0,596.9 569.0,596.9 571.0,596.8 573.0,596.6 575.0,596.3 577.0,596.0 579.0,595.6 581.0,595.3 583.0,595.0 585.0,594.7 587.0,594.3 589.0,594.0 591.0,593.7 593.0,593.4 595.0,593.1 597.0,592.8 599.0,592.5 601.0,592.2 603.0,592.0 605.0,592.0 607.0,592.1 609.0,592.4 611.0,592.7 613.0,593.0 615.0,593.3 617.0,593.6 619.0,593.9 621.0,594.2 623.0,594.5 625.0,594.9 627.0,595.2 629.0,595.6 631.0,595.9 633.0,596.3 635.0,596.6 637.0,597.0 639.0,597.3 641.0,597.6 643.0,597.9 645.0,598.2 647.0,598.6 649.0,598.9 651.0,599.2 653.0,599.5 655.0,599.7 657.0,600.0 659.0,600.3 661.0,600.5 663.0,600.7 665.0,600.9 667.0,601.0 669.0,601.2 671.0,601.3 673.0,601.5 675.0,601.6 677.0,601.8 679.0,602.0 681.0,602.2 683.0,602.5 685.0,602.8 687.0,603.1 689.0,603.4 691.0,603.7 693.0,603.9 695.0,604.1 697.0,604.3 699.0,604.5 701.0,604.7 703.0,605.0 705.0,605.3 707.0,605.6 709.0,605.9 711.0,606.3 713.0,606.7 715.0,607.1 717.0,607.5 719.0,607.8 721.0,608.2 723.0,608.4 725.0,608.6 727.0,608.8 729.0,608.9 731.0,608.9 733.0,608.8 735.0,608.6 737.0,608.3 739.0,607.9 741.0,607.5 743.0,606.9 745.0,606.1 747.0,605.0 749.0,603.6 751.0,601.7 753.0,599.6 755.0,597.0 757.0,594.1 759.0,590.9 761.0,587.5 763.0,583.8 765.0,579.9 767.0,575.8 769.0,571.3 771.0,566.4 773.0,561.2 775.0,555.6 777.0,550.2 779.0,545.0 781.0,539.9 783.0,534.6 785.0,529.1 787.0,523.5 789.0,517.9 791.0,512.4 793.0,506.9 795.0,501.5 797.0,495.9 799.0,489.8 801.0,482.7 803.0,474.5 805.0,465.7 807.0,456.8 809.0,447.8 811.0,438.9 813.0,430.4 815.0,422.4 817.0,414.8 819.0,407.4 821.0,400.2 823.0,393.3 825.0,386.7 827.0,380.4 829.0,374.4 831.0,368.4 833.0,362.6 835.0,356.9 837.0,351.5 839.0,346.1 841.0,340.8 843.0,335.4 845.0,329.9 847.0,324.3 849.0,318.7 851.0,313.2 853.0,308.0 855.0,303.3 857.0,299.2 859.0,295.2 861.0,291.0 863.0,286.7 865.0,282.2 867.0,277.8 869.0,273.3 871.0,268.8 873.0,264.3 875.0,259.8 877.0,255.4 879.0,251.2 881.0,247.2 883.0,243.5 885.0,239.9 887.0,236.3 889.0,232.7 891.0,228.9 893.0,225.2 895.0,221.7 897.0,218.5 899.0,215.4 901.0,212.4 903.0,209.4 905.0,206.5 907.0,203.7 909.0,201.1 911.0,198.6 913.0,196.2 915.0,193.8 917.0,191.4 919.0,189.2 921.0,187.0 923.0,185.0 925.0,183.0 927.0,181.0 929.0,179.0 931.0,177.0 933.0,175.0 935.0,173.0 937.0,170.9 939.0,168.8 941.0,166.5 943.0,164.0 945.0,161.1 947.0,158.2 949.0,155.3 951.0,152.5 953.0,149.7 955.0,147.2 957.0,145.0 959.0,143.2 961.0,141.9 963.0,140.7 965.0,139.7 967.0,138.6 969.0,137.7 971.0,136.8 973.0,135.8 975.0,134.9 977.0,133.9 979.0,132.9 981.0,131.8 983.0,130.6 985.0,129.5 987.0,128.5 989.0,127.5 991.0,126.6 993.0,125.6 995.0,124.5 997.0,123.4 999.0,122.4 1001.0,121.5 1003.0,120.8 1005.0,120.4 1007.0,120.2 1009.0,120.0 1011.0,119.8 1013.0,119.7 1015.0,119.5 1017.0,119.3 1019.0,119.1 1021.0,118.9 1023.0,118.6 1025.0,118.3 1027.0,117.9 1029.0,117.6 1031.0,117.3 1033.0,116.9 1035.0,116.6 1037.0,116.2 1039.0,115.6 1041.0,114.8 1043.0,113.9 1045.0,112.9 1047.0,111.9 1049.0,111.0 1051.0,110.2 1053.0,109.7 1055.0,109.3 1057.0,108.9 1059.0,108.6 1061.0,108.2 1063.0,107.9 1065.0,107.6 1067.0,107.4 1069.0,107.3 1071.0,107.2 1073.0,107.2 1075.0,107.2 1077.0,107.2 1079.0,107.2 1081.0,107.2 1083.0,107.3 1085.0,107.3 1087.0,107.4 1089.0,107.4 1091.0,107.5 1093.0,107.6 1095.0,107.6 1097.0,107.7 1099.0,107.9 1101.0,108.2 1103.0,108.6 1105.0,109.2 1107.0,109.9 1109.0,110.9 1111.0,112.2 1113.0,113.6 1115.0,115.1 1117.0,116.6 1119.0,118.0 1121.0,119.4 1123.0,120.7 1125.0,122.0 1127.0,123.3 1129.0,124.9 1131.0,126.7 1133.0,128.5 1135.0,130.0 1137.0,131.1 1139.0,132.1 1141.0,133.1 1143.0,134.1 1145.0,135.0 1147.0,135.9 1149.0,136.7 1151.0,137.4 1153.0,138.2 1155.0,138.9 1157.0,139.6 1159.0,140.2 1161.0,140.8 1163.0,141.3 1165.0,141.8 1167.0,142.3 1169.0,142.8 1171.0,143.3 1173.0,143.7 1175.0,144.0 1177.0,144.4 1179.0,144.7 1181.0,145.1 1183.0,145.5 1185.0,146.0 1187.0,146.6 1189.0,147.2 1191.0,147.9 1193.0,148.5 1195.0,149.2 1197.0,149.8 1199.0,150.4 1201.0,150.9 1203.0,151.4 1205.0,152.0 1207.0,152.6 1209.0,153.5 1211.0,154.7 1213.0,156.0 1215.0,157.4 1217.0,158.7 1219.0,160.0 1221.0,161.2 1223.0,162.4 1225.0,163.5 1227.0,164.4 1229.0,165.3 1231.0,166.0 1233.0,166.7 1235.0,167.2 1237.0,167.6 1239.0,167.9 1241.0,168.2 1243.0,168.5 1245.0,168.7 1247.0,168.9 1249.0,169.1 1251.0,169.4 1253.0,169.8 1255.0,170.5 1257.0,171.3 1259.0,172.2 1261.0,173.2 1263.0,174.2 1265.0,175.1 1267.0,175.8 1269.0,176.1 1271.0,176.3 1273.0,176.3 1275.0,176.2 1277.0,176.1 1279.0,176.0 1281.0,175.9 1283.0,176.0 1285.0,176.0 1287.0,176.1 1289.0,176.2 1291.0,176.3 1293.0,176.5 1295.0,176.8 1297.0,177.1 1299.0,177.5 1301.0,177.8 1303.0,178.2 1305.0,178.5 1307.0,178.7 1309.0,178.8 1311.0,178.9 1313.0,179.0 1315.0,179.0 1317.0,179.0 1319.0,179.0 1321.0,178.9 1323.0,178.8 1325.0,178.6 1327.0,178.5 1329.0,178.3 1331.0,178.1 1333.0,177.8 1335.0,177.4 1337.0,177.0 1339.0,176.5 1341.0,176.0 1343.0,175.5 1345.0,175.0 1347.0,174.5 1349.0,174.0 1351.0,173.4 1353.0,172.9 1355.0,172.3 1357.0,171.8 1359.0,171.2 1361.0,170.7 1363.0,170.2 1365.0,169.7 1367.0,169.2 1369.0,168.7 1371.0,168.2 1373.0,167.8 1375.0,167.3 1377.0,166.9 1379.0,166.5 1381.0,166.1 1383.0,165.7 1385.0,165.4 1387.0,165.1 1389.0,164.9 1391.0,164.6 1393.0,164.5 1395.0,164.3 1397.0,164.1 1399.0,163.9 1401.0,163.7 1403.0,163.5 1405.0,163.3 1407.0,163.1 1409.0,162.9 1411.0,162.7 1413.0,162.6 1415.0,162.6 1417.0,162.6 1419.0,162.6 1421.0,162.6 1423.0,162.6 1425.0,162.6 1427.0,162.7 1429.0,162.8 1431.0,162.9 1433.0,163.0 1435.0,163.1 1437.0,163.2 1439.0,163.3 1441.0,163.4 1443.0,163.6 1445.0,163.7 1447.0,163.9 1449.0,164.0 1451.0,164.1 1451.5,164.1" fill="none" stroke="#FFFF00" stroke-opacity="0.68" stroke-width="4" stroke-linejoin="round" stroke-linecap="round"/>
<path d="M13.48 564.0V569.9M26.37 571.8V600.6M32.82 581.2V588.2M36.04 578.8V585.0M39.27 565.6V585.0M42.49 558.6V578.8M45.72 569.5V583.5M58.61 631.8V659.0M65.06 635.7V651.2M71.51 632.6V645.0M74.73 629.4V657.5M77.96 618.5V636.4M84.40 595.2V623.2M97.30 615.4V627.9M106.97 626.1V637.5M113.42 624.3V650.6M116.64 621.3V632.7M119.87 614.1V627.9M129.54 595.6V621.3M139.21 621.9V630.9M145.66 632.1V636.3M152.11 629.1V644.6M158.56 624.9V638.7M165.00 618.9V628.5M174.68 613.5V632.1M184.35 608.7V632.7M187.57 614.1V626.1M190.80 605.1V616.5M197.24 612.3V621.3M213.36 623.7V627.3M219.81 624.3V629.7M223.04 618.3V625.5M239.16 636.9V642.5M248.83 637.7V653.1M258.50 633.7V653.9M264.95 624.0V647.4M271.40 636.9V645.0M277.84 639.3V649.8M290.74 649.0V654.7M297.19 651.4V658.7M303.64 651.4V656.3M306.86 650.6V656.3M310.08 646.6V653.9M313.31 645.0V653.1M326.20 669.2V688.6M332.65 674.1V703.2M335.88 678.1V685.4M339.10 674.9V683.0M342.32 666.8V678.9M345.55 650.6V673.3M348.77 597.3V653.1M355.22 613.6V625.7M358.44 582.3V616.2M361.67 561.5V591.9M368.12 586.7V611.8M371.34 577.1V596.2M374.56 576.2V593.6M377.79 567.6V586.7M384.24 563.2V584.0M390.68 574.5V586.7M397.13 571.9V584.9M400.36 572.8V583.2M403.58 560.6V582.3M426.15 624.8V644.8M429.37 558.0V640.5M432.60 558.0V580.6M439.04 578.8V591.9M445.49 591.0V607.5M448.72 588.4V598.8M458.39 595.3V604.0M461.61 596.2V600.5M468.06 575.4V600.5M474.51 577.1V587.5M480.96 570.9V584.1M484.18 564.4V577.5M497.08 588.3V602.7M503.52 597.3V608.7M513.20 596.7V609.3M519.64 598.5V615.2M529.32 617.0V624.8M532.54 618.2V624.2M535.76 611.0V620.0M538.99 610.5V616.4M545.44 585.9V616.4M548.66 593.7V603.9M551.88 580.5V595.5M558.33 584.7V601.5M564.78 587.1V599.1M568.00 582.3V589.5M574.45 573.3V590.1M584.12 584.7V589.5M590.57 582.3V593.1M597.02 566.8V586.5M600.24 547.5V575.8M616.36 612.9V626.7M622.81 614.2V620.5M635.71 609.8V623.0M638.93 611.0V619.8M642.16 611.0V614.8M648.60 606.0V618.6M655.05 604.7V613.5M661.50 604.7V612.3M667.95 607.9V614.2M680.84 617.3V622.3M687.29 628.6V637.4M690.52 626.1V630.5M693.74 624.9V629.3M696.96 617.9V626.1M706.64 621.7V634.3M716.31 627.4V639.3M719.53 624.9V635.5M722.76 609.1V628.0M725.98 590.4V612.8M732.43 600.2V611.0M735.65 570.6V602.9M738.88 562.5V595.7M742.10 514.9V580.5M748.55 471.8V539.2M751.77 443.2V480.0M755.00 346.2V461.1M761.44 366.8V404.5M767.89 376.7V402.8M771.12 347.1V396.5M774.34 293.9V352.3M790.46 289.2V326.6M793.68 284.5V307.9M796.91 234.7V289.2M800.13 210.1V239.8M803.36 153.7V227.4M806.58 91.5V173.8M819.48 139.3V170.0M822.70 119.2V147.9M832.37 144.1V219.7M835.60 137.4V170.0M842.04 136.5V162.3M848.49 138.4V151.8M851.72 124.0V155.6M854.94 107.8V137.4M864.61 153.6V210.2M874.28 164.4V183.2M877.51 153.6V172.5M890.40 175.2V184.1M900.08 182.3V202.1M903.30 153.6V192.2M906.52 141.0V157.2M909.75 137.5V148.2M919.42 140.1V150.0M925.87 147.3V172.5M932.32 150.9V167.1M935.54 122.2V156.3M941.99 127.2V155.7M945.21 110.4V132.2M948.44 57.6V115.4M951.66 38.4V85.3M954.88 42.5V59.3M964.56 42.5V86.1M967.78 53.4V75.2M971.00 48.4V64.3M980.68 62.7V69.4M987.12 71.0V115.4M990.35 56.8V75.2M993.57 64.3V80.2M996.80 61.8V76.1M1009.69 101.2V237.7M1022.59 129.3V164.3M1025.81 141.9V153.5M1032.26 137.4V157.1M1038.71 135.6V154.4M1041.93 121.2V143.6M1045.16 95.1V130.2M1048.38 95.1V107.7M1061.28 105.0V132.0M1070.95 121.2V128.4M1074.17 121.2V131.1M1080.62 151.7V193.0M1093.52 171.5V185.0M1096.74 76.3V178.7M1103.19 129.6V170.9M1106.41 129.6V145.8M1109.64 116.2V135.0M1125.76 172.7V219.4M1128.98 163.7V182.6M1132.20 153.9V171.8M1135.43 137.7V169.1M1138.65 137.7V153.9M1145.10 150.3V162.8M1151.55 123.3V163.7M1164.44 141.3V152.1M1167.67 133.2V144.9M1170.89 137.7V145.8M1187.01 171.8V188.0M1193.46 172.7V193.7M1199.91 191.2V209.6M1203.13 179.4V198.7M1206.36 177.8V186.1M1219.25 191.2V250.7M1225.70 194.5V212.1M1228.92 176.1V203.8M1235.37 177.8V187.0M1251.49 189.5V195.4M1257.94 182.8V193.7M1261.16 167.7V193.7M1264.39 160.1V175.2M1274.06 167.7V178.6M1277.28 161.0V179.4M1280.51 152.7V170.5M1290.18 166.5V176.4M1306.30 179.7V190.9M1312.75 156.7V186.3M1315.97 143.5V161.9M1319.20 137.5V155.3M1325.64 115.8V153.4M1328.87 121.7V143.5M1344.99 141.5V154.7M1354.66 144.1V155.3M1357.88 140.8V148.7M1364.33 152.7V162.6M1367.56 154.0V164.6M1374.00 153.4V164.6M1386.90 173.6V191.9M1390.12 175.9V185.8M1393.35 173.1V183.4M1396.57 162.8V175.5M1406.24 175.5V190.9M1409.47 175.5V180.6M1412.69 160.5V178.3M1415.92 156.2V170.8M1435.26 178.3V183.4M1438.48 155.3V180.2M1444.93 176.4V185.3M1451.38 177.8V182.5" stroke="#089981" stroke-width="0.9" stroke-opacity="0.55" fill="none"/>
<path d="M10.25 560.9V571.0M16.70 562.5V575.7M19.92 570.2V592.1M23.15 583.5V596.7M29.60 582.7V596.7M48.94 568.7V578.0M52.16 571.8V631.0M55.39 608.4V684.0M61.84 625.5V648.1M68.28 632.6V653.6M81.18 614.6V626.3M87.63 602.2V611.5M90.85 606.1V621.7M94.08 615.4V624.0M100.52 620.7V632.1M103.75 621.9V631.5M110.20 624.9V644.0M123.09 612.3V620.1M126.32 616.5V621.9M132.76 610.5V622.5M135.99 619.5V627.3M142.44 623.1V638.1M148.88 631.5V638.7M155.33 629.1V638.1M161.78 623.1V627.9M168.23 620.7V625.5M171.45 622.5V632.1M177.90 603.3V618.9M181.12 613.5V623.1M194.02 611.1V620.7M200.47 615.3V621.3M203.69 616.5V623.7M206.92 619.5V629.1M210.14 621.9V629.1M216.59 624.3V631.5M226.26 616.7V623.1M229.48 620.7V625.6M232.71 619.9V665.2M235.93 636.1V643.4M242.38 632.8V640.1M245.60 638.5V656.3M252.05 641.7V653.1M255.28 649.0V661.9M261.72 636.9V645.0M268.17 630.4V655.5M274.62 635.3V644.2M281.07 642.5V646.6M284.29 644.2V651.4M287.52 649.0V661.1M293.96 651.4V657.9M300.41 649.0V657.1M316.53 645.0V661.1M319.76 656.3V683.8M322.98 680.5V720.2M329.43 670.0V692.2M352.00 620.5V625.7M364.89 561.5V602.3M381.01 571.0V590.1M387.46 566.7V587.5M393.91 574.5V587.5M406.80 551.1V568.4M410.03 564.1V597.1M413.25 580.6V608.3M416.48 591.9V612.7M419.70 603.1V624.0M422.92 621.4V682.1M435.82 566.7V597.1M442.27 583.2V608.3M451.94 587.5V597.9M455.16 594.5V606.6M464.84 588.4V600.5M471.28 572.8V585.8M477.73 577.5V584.1M487.40 572.1V581.7M490.63 578.1V590.7M493.85 579.9V603.9M500.30 592.5V602.7M506.75 594.9V599.1M509.97 597.3V609.3M516.42 594.3V603.3M522.87 601.5V611.0M526.09 609.9V634.4M542.21 611.6V622.4M555.11 581.7V596.1M561.56 582.9V589.5M571.23 584.1V592.5M577.68 577.5V590.7M580.90 584.7V590.7M587.35 582.3V588.9M593.80 580.5V588.3M603.47 551.9V575.2M606.69 562.6V591.5M609.92 576.5V620.5M613.14 610.4V631.8M619.59 615.4V620.5M626.04 609.1V620.5M629.26 616.7V623.0M632.48 616.7V623.6M645.38 612.9V621.1M651.83 604.1V616.7M658.28 599.1V611.7M664.72 607.3V611.7M671.17 601.6V611.0M674.40 608.5V619.2M677.62 615.4V628.6M684.07 616.7V644.4M700.19 619.2V624.2M703.41 621.7V634.3M709.86 628.0V630.5M713.08 628.6V641.2M729.20 602.0V611.9M745.32 510.4V559.8M758.22 374.0V419.8M764.67 377.6V398.3M777.56 268.2V312.6M780.79 291.6V342.2M784.01 286.1V325.1M787.24 302.5V342.2M809.80 87.7V164.2M813.03 112.5V162.3M816.25 134.5V177.6M825.92 115.4V136.5M829.15 120.2V199.6M838.82 136.5V156.6M845.27 130.7V152.7M858.16 123.1V159.9M861.39 142.8V179.6M867.84 149.1V174.3M871.06 162.6V179.6M880.73 156.3V160.8M883.96 159.9V184.1M887.18 169.8V185.9M893.63 176.1V193.1M896.85 181.4V203.9M912.97 133.9V145.5M916.20 143.7V156.3M922.64 139.2V165.3M929.09 150.9V165.3M938.76 124.0V137.5M958.11 47.6V71.0M961.33 50.1V94.5M974.23 59.3V72.7M977.45 56.8V71.0M983.90 63.5V76.1M1000.02 63.5V76.9M1003.24 70.2V95.3M1006.47 82.8V137.2M1012.92 100.4V143.9M1016.14 126.3V154.8M1019.36 138.9V160.7M1029.04 132.9V157.1M1035.48 131.1V146.3M1051.60 98.7V108.6M1054.83 103.2V120.3M1058.05 112.2V137.4M1064.50 105.0V113.1M1067.72 107.7V132.9M1077.40 121.2V168.8M1083.84 157.1V176.0M1087.07 166.1V181.4M1090.29 173.3V211.0M1099.96 80.8V161.6M1112.86 119.7V153.9M1116.08 146.7V157.5M1119.31 153.9V190.7M1122.53 166.4V205.0M1141.88 146.7V163.7M1148.32 153.9V170.0M1154.77 126.0V148.5M1158.00 137.7V153.0M1161.22 144.0V152.1M1174.12 136.8V155.7M1177.34 150.3V159.2M1180.56 153.9V175.4M1183.79 171.8V194.3M1190.24 181.7V200.5M1196.68 169.4V206.3M1209.58 181.9V225.6M1212.80 203.8V270.0M1216.03 208.8V240.7M1222.48 194.5V216.6M1232.15 167.7V190.3M1238.60 177.8V192.0M1241.82 185.3V197.9M1245.04 187.8V196.2M1248.27 192.0V197.0M1254.72 189.5V197.9M1267.61 170.2V185.3M1270.84 172.7V179.4M1283.73 160.6V169.8M1286.96 167.2V184.3M1293.40 168.5V175.8M1296.63 171.8V177.7M1299.85 172.5V181.0M1303.08 175.1V187.6M1309.52 179.7V187.0M1322.42 136.9V156.7M1332.09 116.5V131.6M1335.32 125.7V153.4M1338.54 142.2V153.4M1341.76 149.4V160.6M1348.21 142.2V161.9M1351.44 146.8V158.0M1361.11 137.5V162.6M1370.78 153.4V160.6M1377.23 157.3V169.2M1380.45 160.5V168.0M1383.68 167.0V183.9M1399.80 165.6V175.0M1403.02 170.3V194.7M1419.14 157.7V164.7M1422.36 155.8V165.2M1425.59 163.7V177.8M1428.81 175.5V190.9M1432.04 177.3V187.2M1441.71 167.0V181.1M1448.16 177.3V182.0" stroke="#F23645" stroke-width="0.9" stroke-opacity="0.55" fill="none"/>
<path d="M12.68 564.8h1.6V569.5h-1.6ZM25.57 583.5h1.6V592.1h-1.6ZM32.02 583.5h1.6V587.4h-1.6ZM35.24 580.4h1.6V584.3h-1.6ZM38.47 572.6h1.6V582.7h-1.6ZM41.69 571.8h1.6V576.5h-1.6ZM44.92 569.9h1.6V573.4h-1.6ZM57.81 634.9h1.6V649.7h-1.6ZM64.26 639.1h1.6V640.1h-1.6ZM70.71 634.1h1.6V640.3h-1.6ZM73.93 630.2h1.6V634.9h-1.6ZM77.16 619.3h1.6V634.9h-1.6ZM83.60 603.7h1.6V621.7h-1.6ZM96.50 620.9h1.6V623.2h-1.6ZM106.17 627.3h1.6V631.5h-1.6ZM112.62 626.7h1.6V636.3h-1.6ZM115.84 624.9h1.6V626.1h-1.6ZM119.07 617.1h1.6V626.1h-1.6ZM128.74 612.3h1.6V618.9h-1.6ZM138.41 623.7h1.6V627.3h-1.6ZM144.86 633.3h1.6V636.3h-1.6ZM151.31 633.9h1.6V636.9h-1.6ZM157.76 625.5h1.6V636.9h-1.6ZM164.20 621.9h1.6V627.9h-1.6ZM173.88 614.1h1.6V632.1h-1.6ZM183.55 615.9h1.6V620.7h-1.6ZM186.77 614.7h1.6V619.5h-1.6ZM190.00 611.7h1.6V615.9h-1.6ZM196.44 616.5h1.6V620.1h-1.6ZM212.56 624.3h1.6V626.7h-1.6ZM219.01 624.9h1.6V629.1h-1.6ZM222.24 621.9h1.6V624.9h-1.6ZM238.36 637.7h1.6V642.5h-1.6ZM248.03 641.7h1.6V649.8h-1.6ZM257.70 642.5h1.6V653.9h-1.6ZM264.15 633.7h1.6V644.2h-1.6ZM270.60 640.9h1.6V643.4h-1.6ZM277.04 641.7h1.6V644.2h-1.6ZM289.94 653.1h1.6V654.3h-1.6ZM296.39 652.2h1.6V657.9h-1.6ZM302.84 653.1h1.6V655.5h-1.6ZM306.06 652.2h1.6V653.9h-1.6ZM309.28 649.8h1.6V653.1h-1.6ZM312.51 645.8h1.6V652.2h-1.6ZM325.40 670.0h1.6V687.8h-1.6ZM331.85 683.8h1.6V691.9h-1.6ZM335.08 679.7h1.6V684.6h-1.6ZM338.30 676.5h1.6V680.5h-1.6ZM341.52 669.2h1.6V678.1h-1.6ZM344.75 653.1h1.6V670.8h-1.6ZM347.97 620.7h1.6V653.1h-1.6ZM354.42 614.4h1.6V624.8h-1.6ZM357.64 591.0h1.6V615.3h-1.6ZM360.87 565.8h1.6V591.0h-1.6ZM367.32 594.5h1.6V597.1h-1.6ZM370.54 583.2h1.6V595.3h-1.6ZM373.76 580.6h1.6V584.0h-1.6ZM376.99 575.4h1.6V580.6h-1.6ZM383.44 570.2h1.6V580.6h-1.6ZM389.88 578.0h1.6V580.6h-1.6ZM396.33 578.8h1.6V584.0h-1.6ZM399.56 578.0h1.6V579.7h-1.6ZM402.78 565.0h1.6V578.8h-1.6ZM425.35 632.6h1.6V643.9h-1.6ZM428.57 579.7h1.6V632.6h-1.6ZM431.80 571.0h1.6V579.7h-1.6ZM438.24 588.4h1.6V591.0h-1.6ZM444.69 597.1h1.6V606.6h-1.6ZM447.92 591.9h1.6V597.1h-1.6ZM457.59 598.8h1.6V602.3h-1.6ZM460.81 597.9h1.6V599.7h-1.6ZM467.26 580.6h1.6V599.7h-1.6ZM473.71 580.6h1.6V582.3h-1.6ZM480.16 573.9h1.6V582.3h-1.6ZM483.38 572.7h1.6V575.7h-1.6ZM496.28 595.5h1.6V597.9h-1.6ZM502.72 597.3h1.6V600.3h-1.6ZM512.40 597.3h1.6V608.7h-1.6ZM518.84 601.5h1.6V603.9h-1.6ZM528.52 621.8h1.6V624.2h-1.6ZM531.74 619.4h1.6V621.2h-1.6ZM534.96 612.8h1.6V619.4h-1.6ZM538.19 611.6h1.6V615.8h-1.6ZM544.64 600.3h1.6V616.4h-1.6ZM547.86 594.3h1.6V600.3h-1.6ZM551.08 581.7h1.6V594.9h-1.6ZM557.53 587.1h1.6V594.9h-1.6ZM563.98 587.5h1.6V588.5h-1.6ZM567.20 586.5h1.6V588.3h-1.6ZM573.65 581.1h1.6V589.5h-1.6ZM583.32 585.3h1.6V588.3h-1.6ZM589.77 585.3h1.6V588.3h-1.6ZM596.22 572.1h1.6V585.9h-1.6ZM599.44 559.5h1.6V572.7h-1.6ZM615.56 614.2h1.6V623.6h-1.6ZM622.01 616.7h1.6V619.2h-1.6ZM634.91 616.7h1.6V622.3h-1.6ZM638.13 611.7h1.6V619.2h-1.6ZM641.36 612.3h1.6V614.2h-1.6ZM647.80 608.5h1.6V617.9h-1.6ZM654.25 608.5h1.6V612.9h-1.6ZM660.70 608.5h1.6V611.7h-1.6ZM667.15 608.5h1.6V611.7h-1.6ZM680.04 617.9h1.6V621.7h-1.6ZM686.49 629.3h1.6V636.8h-1.6ZM689.72 626.7h1.6V629.9h-1.6ZM692.94 625.5h1.6V628.0h-1.6ZM696.16 619.8h1.6V625.5h-1.6ZM705.84 628.6h1.6V631.1h-1.6ZM715.51 634.9h1.6V636.8h-1.6ZM718.73 628.0h1.6V634.9h-1.6ZM721.96 611.7h1.6V627.4h-1.6ZM725.18 602.0h1.6V611.9h-1.6ZM731.63 601.1h1.6V606.5h-1.6ZM734.85 585.9h1.6V602.0h-1.6ZM738.08 568.8h1.6V585.9h-1.6ZM741.30 531.1h1.6V568.8h-1.6ZM747.75 500.5h1.6V536.5h-1.6ZM750.97 455.7h1.6V480.0h-1.6ZM754.20 384.8h1.6V455.7h-1.6ZM760.64 387.1h1.6V403.6h-1.6ZM767.09 389.9h1.6V390.9h-1.6ZM770.32 351.6h1.6V390.2h-1.6ZM773.54 300.1h1.6V351.6h-1.6ZM789.66 300.1h1.6V315.7h-1.6ZM792.88 285.3h1.6V300.9h-1.6ZM796.11 236.2h1.6V286.1h-1.6ZM799.33 211.1h1.6V238.9h-1.6ZM802.56 161.3h1.6V212.1h-1.6ZM805.78 107.8h1.6V161.3h-1.6ZM818.68 143.2h1.6V169.0h-1.6ZM821.90 120.2h1.6V143.2h-1.6ZM831.57 150.8h1.6V172.8h-1.6ZM834.80 147.9h1.6V150.8h-1.6ZM841.24 145.1h1.6V156.6h-1.6ZM847.69 141.2h1.6V146.0h-1.6ZM850.92 135.5h1.6V141.2h-1.6ZM854.14 125.9h1.6V136.5h-1.6ZM863.81 162.6h1.6V169.8h-1.6ZM873.48 166.2h1.6V175.2h-1.6ZM876.71 157.2h1.6V166.2h-1.6ZM889.60 176.9h1.6V183.2h-1.6ZM899.28 191.3h1.6V195.8h-1.6ZM902.50 157.2h1.6V191.3h-1.6ZM905.72 147.3h1.6V156.3h-1.6ZM908.95 141.9h1.6V147.3h-1.6ZM918.62 144.6h1.6V147.3h-1.6ZM925.07 150.9h1.6V164.4h-1.6ZM931.52 154.5h1.6V164.4h-1.6ZM934.74 124.9h1.6V154.5h-1.6ZM941.19 131.4h1.6V133.0h-1.6ZM944.41 113.8h1.6V131.4h-1.6ZM947.64 62.7h1.6V114.6h-1.6ZM950.86 53.4h1.6V63.5h-1.6ZM954.08 48.4h1.6V53.4h-1.6ZM963.76 66.8h1.6V83.6h-1.6ZM966.98 60.1h1.6V66.8h-1.6ZM970.20 59.2h1.6V60.2h-1.6ZM979.88 66.0h1.6V67.7h-1.6ZM986.32 71.0h1.6V75.2h-1.6ZM989.55 71.0h1.6V72.0h-1.6ZM992.77 70.1h1.6V71.1h-1.6ZM996.00 64.3h1.6V71.0h-1.6ZM1008.89 110.4h1.6V125.5h-1.6ZM1021.79 148.1h1.6V157.1h-1.6ZM1025.01 144.5h1.6V149.0h-1.6ZM1031.46 143.6h1.6V149.0h-1.6ZM1037.91 137.4h1.6V145.4h-1.6ZM1041.13 127.5h1.6V139.2h-1.6ZM1044.36 105.9h1.6V127.5h-1.6ZM1047.58 103.2h1.6V106.8h-1.6ZM1060.48 105.9h1.6V127.5h-1.6ZM1070.15 124.8h1.6V126.6h-1.6ZM1073.37 122.1h1.6V125.7h-1.6ZM1079.82 157.1h1.6V163.4h-1.6ZM1092.72 172.4h1.6V183.2h-1.6ZM1095.94 83.5h1.6V177.8h-1.6ZM1102.39 139.5h1.6V149.4h-1.6ZM1105.61 134.1h1.6V140.4h-1.6ZM1108.84 122.4h1.6V134.1h-1.6ZM1124.96 178.1h1.6V200.5h-1.6ZM1128.18 168.2h1.6V178.1h-1.6ZM1131.40 167.3h1.6V170.0h-1.6ZM1134.63 153.9h1.6V168.2h-1.6ZM1137.85 148.5h1.6V153.9h-1.6ZM1144.30 154.8h1.6V161.9h-1.6ZM1150.75 128.7h1.6V162.8h-1.6ZM1163.64 142.2h1.6V151.2h-1.6ZM1166.87 141.3h1.6V143.1h-1.6ZM1170.09 141.3h1.6V143.1h-1.6ZM1186.21 179.0h1.6V182.6h-1.6ZM1192.66 175.2h1.6V192.0h-1.6ZM1199.11 193.7h1.6V201.2h-1.6ZM1202.33 184.5h1.6V193.7h-1.6ZM1205.56 182.8h1.6V185.3h-1.6ZM1218.45 196.2h1.6V237.3h-1.6ZM1224.90 201.2h1.6V210.5h-1.6ZM1228.12 177.8h1.6V201.2h-1.6ZM1234.57 184.5h1.6V186.1h-1.6ZM1250.69 191.2h1.6V194.5h-1.6ZM1257.14 191.2h1.6V192.9h-1.6ZM1260.36 172.7h1.6V192.9h-1.6ZM1263.59 171.9h1.6V174.4h-1.6ZM1273.26 175.2h1.6V176.9h-1.6ZM1276.48 166.8h1.6V176.1h-1.6ZM1279.71 161.9h1.6V169.8h-1.6ZM1289.38 172.5h1.6V175.8h-1.6ZM1305.50 181.0h1.6V185.0h-1.6ZM1311.95 157.3h1.6V185.6h-1.6ZM1315.17 155.3h1.6V158.0h-1.6ZM1318.40 138.2h1.6V154.7h-1.6ZM1324.84 129.0h1.6V152.7h-1.6ZM1328.07 122.4h1.6V129.6h-1.6ZM1344.19 143.5h1.6V154.0h-1.6ZM1353.86 147.4h1.6V154.7h-1.6ZM1357.08 142.8h1.6V148.1h-1.6ZM1363.53 156.7h1.6V161.9h-1.6ZM1366.76 154.7h1.6V160.6h-1.6ZM1373.20 158.0h1.6V163.2h-1.6ZM1386.10 178.3h1.6V182.5h-1.6ZM1389.32 176.9h1.6V178.7h-1.6ZM1392.55 174.5h1.6V178.7h-1.6ZM1395.77 163.3h1.6V175.0h-1.6ZM1405.44 180.2h1.6V190.5h-1.6ZM1408.67 177.8h1.6V180.2h-1.6ZM1411.89 160.9h1.6V177.8h-1.6ZM1415.12 156.2h1.6V170.3h-1.6ZM1434.46 178.7h1.6V183.0h-1.6ZM1437.68 168.4h1.6V179.7h-1.6ZM1444.13 178.3h1.6V180.2h-1.6ZM1450.58 178.3h1.6V179.7h-1.6Z" fill="#089981"/>
<path d="M9.45 561.7h1.6V570.2h-1.6ZM15.90 565.6h1.6V574.9h-1.6ZM19.12 574.1h1.6V588.9h-1.6ZM22.35 588.2h1.6V592.8h-1.6ZM28.80 583.5h1.6V587.4h-1.6ZM48.14 571.0h1.6V575.7h-1.6ZM51.36 575.7h1.6V609.2h-1.6ZM54.59 609.2h1.6V649.7h-1.6ZM61.04 634.9h1.6V638.8h-1.6ZM67.48 638.8h1.6V640.3h-1.6ZM80.38 619.3h1.6V624.8h-1.6ZM86.83 603.7h1.6V610.7h-1.6ZM90.05 610.0h1.6V620.9h-1.6ZM93.28 620.9h1.6V623.2h-1.6ZM99.72 621.3h1.6V626.1h-1.6ZM102.95 626.1h1.6V630.9h-1.6ZM109.40 627.9h1.6V636.3h-1.6ZM122.29 617.1h1.6V619.5h-1.6ZM125.52 617.7h1.6V618.9h-1.6ZM131.96 612.9h1.6V621.3h-1.6ZM135.19 621.3h1.6V626.7h-1.6ZM141.64 623.7h1.6V637.5h-1.6ZM148.08 632.7h1.6V638.1h-1.6ZM154.53 633.3h1.6V637.5h-1.6ZM160.98 624.3h1.6V627.3h-1.6ZM167.43 621.9h1.6V624.9h-1.6ZM170.65 623.7h1.6V631.5h-1.6ZM177.10 614.1h1.6V618.3h-1.6ZM180.32 614.1h1.6V622.5h-1.6ZM193.22 611.7h1.6V620.1h-1.6ZM199.67 615.9h1.6V620.7h-1.6ZM202.89 618.3h1.6V622.5h-1.6ZM206.12 620.7h1.6V626.1h-1.6ZM209.34 622.5h1.6V627.3h-1.6ZM215.79 625.5h1.6V628.5h-1.6ZM225.46 620.7h1.6V622.3h-1.6ZM228.68 621.5h1.6V624.8h-1.6ZM231.91 623.1h1.6V637.7h-1.6ZM235.13 636.9h1.6V642.5h-1.6ZM241.58 637.7h1.6V639.3h-1.6ZM244.80 639.3h1.6V649.8h-1.6ZM251.25 642.5h1.6V652.2h-1.6ZM254.48 651.4h1.6V653.9h-1.6ZM260.92 642.5h1.6V644.2h-1.6ZM267.37 633.7h1.6V642.5h-1.6ZM273.82 640.9h1.6V643.4h-1.6ZM280.27 643.4h1.6V645.8h-1.6ZM283.49 645.0h1.6V649.8h-1.6ZM286.72 649.8h1.6V653.9h-1.6ZM293.16 652.2h1.6V656.3h-1.6ZM299.61 653.1h1.6V656.3h-1.6ZM315.73 645.8h1.6V657.9h-1.6ZM318.96 657.9h1.6V682.2h-1.6ZM322.18 681.4h1.6V687.0h-1.6ZM328.63 670.8h1.6V691.9h-1.6ZM351.20 621.4h1.6V624.8h-1.6ZM364.09 565.8h1.6V597.1h-1.6ZM380.21 575.4h1.6V580.6h-1.6ZM386.66 570.2h1.6V579.7h-1.6ZM393.11 578.0h1.6V582.3h-1.6ZM406.00 565.8h1.6V568.4h-1.6ZM409.23 567.6h1.6V581.4h-1.6ZM412.45 581.4h1.6V600.5h-1.6ZM415.68 600.5h1.6V604.0h-1.6ZM418.90 604.0h1.6V623.1h-1.6ZM422.12 622.2h1.6V643.9h-1.6ZM435.02 571.9h1.6V591.0h-1.6ZM441.47 588.4h1.6V606.6h-1.6ZM451.14 591.9h1.6V597.1h-1.6ZM454.36 596.2h1.6V601.4h-1.6ZM464.04 597.9h1.6V599.7h-1.6ZM470.48 580.6h1.6V583.2h-1.6ZM476.93 580.5h1.6V582.9h-1.6ZM486.60 573.3h1.6V580.5h-1.6ZM489.83 578.7h1.6V586.5h-1.6ZM493.05 587.1h1.6V597.9h-1.6ZM499.50 595.5h1.6V600.9h-1.6ZM505.95 597.3h1.6V598.5h-1.6ZM509.17 597.9h1.6V608.7h-1.6ZM515.62 596.7h1.6V602.7h-1.6ZM522.07 602.1h1.6V610.5h-1.6ZM525.29 609.9h1.6V624.2h-1.6ZM541.41 612.2h1.6V616.4h-1.6ZM554.31 582.3h1.6V595.5h-1.6ZM560.76 586.5h1.6V588.3h-1.6ZM570.43 586.5h1.6V588.9h-1.6ZM576.88 581.1h1.6V585.9h-1.6ZM580.10 585.9h1.6V588.3h-1.6ZM586.55 584.1h1.6V588.3h-1.6ZM593.00 584.7h1.6V585.9h-1.6ZM602.67 558.9h1.6V574.6h-1.6ZM605.89 573.3h1.6V581.5h-1.6ZM609.12 582.1h1.6V613.5h-1.6ZM612.34 613.5h1.6V623.6h-1.6ZM618.79 616.1h1.6V619.8h-1.6ZM625.24 614.2h1.6V619.8h-1.6ZM628.46 618.6h1.6V619.8h-1.6ZM631.68 617.9h1.6V623.0h-1.6ZM644.58 613.5h1.6V616.7h-1.6ZM651.03 608.5h1.6V612.9h-1.6ZM657.48 608.5h1.6V610.4h-1.6ZM663.92 608.5h1.6V610.4h-1.6ZM670.37 608.5h1.6V610.4h-1.6ZM673.60 610.4h1.6V616.7h-1.6ZM676.82 616.7h1.6V621.7h-1.6ZM683.27 617.3h1.6V635.5h-1.6ZM699.39 619.8h1.6V623.6h-1.6ZM702.61 622.3h1.6V631.1h-1.6ZM709.06 628.6h1.6V629.9h-1.6ZM712.28 629.9h1.6V634.3h-1.6ZM728.40 602.9h1.6V604.7h-1.6ZM744.52 530.2h1.6V536.5h-1.6ZM757.42 383.9h1.6V403.6h-1.6ZM763.87 387.1h1.6V390.2h-1.6ZM776.76 299.3h1.6V300.9h-1.6ZM779.99 300.9h1.6V307.9h-1.6ZM783.21 307.9h1.6V312.6h-1.6ZM786.44 312.6h1.6V315.7h-1.6ZM809.00 107.8h1.6V132.6h-1.6ZM812.23 132.6h1.6V152.7h-1.6ZM815.45 152.7h1.6V168.0h-1.6ZM825.12 120.2h1.6V122.1h-1.6ZM828.35 121.1h1.6V172.8h-1.6ZM838.02 147.9h1.6V155.6h-1.6ZM844.47 145.1h1.6V147.9h-1.6ZM857.36 125.8h1.6V159.0h-1.6ZM860.59 159.0h1.6V168.0h-1.6ZM867.04 163.5h1.6V173.4h-1.6ZM870.26 169.8h1.6V174.3h-1.6ZM879.93 157.2h1.6V159.9h-1.6ZM883.16 160.8h1.6V181.4h-1.6ZM886.38 180.5h1.6V183.2h-1.6ZM892.83 177.8h1.6V192.2h-1.6ZM896.05 190.4h1.6V195.8h-1.6ZM912.17 140.1h1.6V144.6h-1.6ZM915.40 144.6h1.6V148.2h-1.6ZM921.84 144.6h1.6V164.4h-1.6ZM928.29 155.4h1.6V164.4h-1.6ZM937.96 124.9h1.6V133.9h-1.6ZM957.31 48.4h1.6V50.9h-1.6ZM960.53 50.9h1.6V82.8h-1.6ZM973.43 60.1h1.6V66.0h-1.6ZM976.65 65.9h1.6V66.9h-1.6ZM983.10 66.0h1.6V75.2h-1.6ZM999.22 64.3h1.6V75.2h-1.6ZM1002.44 74.4h1.6V90.3h-1.6ZM1005.67 90.3h1.6V125.5h-1.6ZM1012.12 110.4h1.6V130.5h-1.6ZM1015.34 130.5h1.6V149.8h-1.6ZM1018.56 149.0h1.6V157.3h-1.6ZM1028.24 145.4h1.6V149.0h-1.6ZM1034.68 143.6h1.6V145.4h-1.6ZM1050.80 103.2h1.6V106.8h-1.6ZM1054.03 107.7h1.6V114.9h-1.6ZM1057.25 114.9h1.6V126.6h-1.6ZM1063.70 105.9h1.6V108.6h-1.6ZM1066.92 108.6h1.6V125.7h-1.6ZM1076.60 124.8h1.6V163.4h-1.6ZM1083.04 158.0h1.6V174.2h-1.6ZM1086.27 174.2h1.6V176.0h-1.6ZM1089.49 174.2h1.6V178.7h-1.6ZM1099.16 83.5h1.6V159.8h-1.6ZM1112.06 122.4h1.6V148.5h-1.6ZM1115.28 148.5h1.6V156.6h-1.6ZM1118.51 154.8h1.6V183.5h-1.6ZM1121.73 182.6h1.6V201.4h-1.6ZM1141.08 148.5h1.6V161.9h-1.6ZM1147.52 154.8h1.6V162.8h-1.6ZM1153.97 128.7h1.6V143.1h-1.6ZM1157.20 138.6h1.6V150.3h-1.6ZM1160.42 146.7h1.6V151.2h-1.6ZM1173.32 141.3h1.6V153.9h-1.6ZM1176.54 153.0h1.6V154.8h-1.6ZM1179.76 154.8h1.6V173.6h-1.6ZM1182.99 172.7h1.6V183.5h-1.6ZM1189.44 182.6h1.6V189.8h-1.6ZM1195.88 182.8h1.6V201.2h-1.6ZM1208.78 182.8h1.6V217.2h-1.6ZM1212.00 217.2h1.6V220.5h-1.6ZM1215.23 220.5h1.6V237.3h-1.6ZM1221.68 196.2h1.6V210.7h-1.6ZM1231.35 179.4h1.6V186.1h-1.6ZM1237.80 184.5h1.6V191.2h-1.6ZM1241.02 190.3h1.6V192.0h-1.6ZM1244.24 192.0h1.6V193.7h-1.6ZM1247.47 193.7h1.6V195.4h-1.6ZM1253.92 191.2h1.6V192.9h-1.6ZM1266.81 171.9h1.6V176.1h-1.6ZM1270.04 173.6h1.6V177.8h-1.6ZM1282.93 161.3h1.6V168.5h-1.6ZM1286.16 169.2h1.6V176.4h-1.6ZM1292.60 171.8h1.6V175.1h-1.6ZM1295.83 172.5h1.6V176.4h-1.6ZM1299.05 176.4h1.6V180.4h-1.6ZM1302.28 179.1h1.6V184.3h-1.6ZM1308.72 180.4h1.6V185.0h-1.6ZM1321.62 138.2h1.6V152.0h-1.6ZM1331.29 124.4h1.6V128.3h-1.6ZM1334.52 127.7h1.6V152.7h-1.6ZM1337.74 148.7h1.6V150.7h-1.6ZM1340.96 150.1h1.6V154.0h-1.6ZM1347.41 143.5h1.6V150.1h-1.6ZM1350.64 149.4h1.6V154.0h-1.6ZM1360.31 143.5h1.6V161.9h-1.6ZM1369.98 154.7h1.6V159.3h-1.6ZM1376.43 158.0h1.6V168.5h-1.6ZM1379.65 160.9h1.6V167.5h-1.6ZM1382.88 167.5h1.6V183.4h-1.6ZM1399.00 166.1h1.6V174.5h-1.6ZM1402.22 174.1h1.6V190.0h-1.6ZM1418.34 158.1h1.6V160.0h-1.6ZM1421.56 156.2h1.6V164.7h-1.6ZM1424.79 164.2h1.6V177.3h-1.6ZM1428.01 175.9h1.6V184.4h-1.6ZM1431.24 181.6h1.6V183.0h-1.6ZM1440.91 168.4h1.6V179.7h-1.6ZM1447.36 178.2h1.6V179.2h-1.6Z" fill="#F23645"/>
<text x="158.44" y="670.2" font-size="18" font-weight="bold" fill="#2962FF" textLength="66.30" lengthAdjust="spacing" >65 days</text>
<text x="637.72" y="636.2" font-size="12" font-weight="bold" fill="#2962FF" textLength="45.27" lengthAdjust="spacing" >35 days</text>
</g>
<g><circle cx="1451.4" cy="732.8" r="9.4" fill="#fff" stroke="#9C27B0" stroke-width="1.3"/><path d="M1448.5 731.5 L1451 729 M1448.5 735 L1450.5 733" stroke="#9C27B0" stroke-width="1.2"/><path d="M1441.3 731.4 Q1442.5 735 1446.1 736.2 Q1442.5 737.4 1441.3 741 Q1440.1 737.4 1436.5 736.2 Q1440.1 735 1441.3 731.4Z" fill="#7C4DFF" stroke="#fff" stroke-width="0.6"/></g>
<g><circle cx="1470.3" cy="732.8" r="9.8" fill="#fff" stroke="#F23645" stroke-width="1.4"/><clipPath id="fc1470"><circle cx="1470.3" cy="732.8" r="7.7"/></clipPath><g clip-path="url(#fc1470)"><rect x="1462.3" y="724.8" width="16" height="16" fill="#fff"/><rect x="1462.3" y="725.0" width="16" height="3.0" fill="#F23645"/><rect x="1462.3" y="731.0999999999999" width="16" height="2.8" fill="#F23645"/><rect x="1462.3" y="736.8" width="16" height="2.9" fill="#F23645"/><rect x="1462.3" y="724.8" width="9.6" height="9.1" fill="#2D7FE0"/><path d="M1464.3 727.3h1.2M1466.7 727.3h1.2M1469.1 727.3h1.2M1464.3 729.8h1.2M1466.7 729.8h1.2M1469.1 729.8h1.2M1464.3 732.3h1.2M1466.7 732.3h1.2M1469.1 732.3h1.2" stroke="#cfe3fa" stroke-width="1"/></g></g>
<g><circle cx="1460.4" cy="732.8" r="9.8" fill="#fff" stroke="#F23645" stroke-width="1.4"/><clipPath id="fc1460"><circle cx="1460.4" cy="732.8" r="7.7"/></clipPath><g clip-path="url(#fc1460)"><rect x="1452.4" y="724.8" width="16" height="16" fill="#fff"/><rect x="1452.4" y="725.0" width="16" height="3.0" fill="#F23645"/><rect x="1452.4" y="731.0999999999999" width="16" height="2.8" fill="#F23645"/><rect x="1452.4" y="736.8" width="16" height="2.9" fill="#F23645"/><rect x="1452.4" y="724.8" width="9.6" height="9.1" fill="#2D7FE0"/><path d="M1454.4 727.3h1.2M1456.8000000000002 727.3h1.2M1459.2 727.3h1.2M1454.4 729.8h1.2M1456.8000000000002 729.8h1.2M1459.2 729.8h1.2M1454.4 732.3h1.2M1456.8000000000002 732.3h1.2M1459.2 732.3h1.2" stroke="#cfe3fa" stroke-width="1"/></g></g>
<path d="M9.5 745.5H1590.5" stroke="#E0E3EB" stroke-width="1"/>
<rect x="9.5" y="25.5" width="1581" height="776" fill="none" stroke="#F0F1F3" stroke-width="1"/>
<text x="1530.14" y="82.0" font-size="12" fill="#1E222D" textLength="39.53" lengthAdjust="spacing" >3.0000</text>
<text x="1530.00" y="126.6" font-size="12" fill="#1E222D" textLength="39.67" lengthAdjust="spacing" >2.6000</text>
<text x="1530.00" y="208.3" font-size="12" fill="#1E222D" textLength="39.67" lengthAdjust="spacing" >2.0000</text>
<text x="1529.69" y="241.2" font-size="12" fill="#1E222D" textLength="39.98" lengthAdjust="spacing" >1.8000</text>
<text x="1529.69" y="277.9" font-size="12" fill="#1E222D" textLength="39.98" lengthAdjust="spacing" >1.6000</text>
<text x="1529.69" y="308.6" font-size="12" fill="#1E222D" textLength="39.98" lengthAdjust="spacing" >1.4500</text>
<text x="1529.69" y="342.6" font-size="12" fill="#1E222D" textLength="39.98" lengthAdjust="spacing" >1.3000</text>
<text x="1529.69" y="380.8" font-size="12" fill="#1E222D" textLength="39.98" lengthAdjust="spacing" >1.1500</text>
<text x="1529.69" y="424.4" font-size="12" fill="#1E222D" textLength="39.98" lengthAdjust="spacing" >1.0000</text>
<text x="1530.13" y="457.2" font-size="12" fill="#1E222D" textLength="39.54" lengthAdjust="spacing" >0.9000</text>
<text x="1530.13" y="494.0" font-size="12" fill="#1E222D" textLength="39.54" lengthAdjust="spacing" >0.8000</text>
<text x="1530.13" y="526.8" font-size="12" fill="#1E222D" textLength="39.54" lengthAdjust="spacing" >0.7200</text>
<text x="1530.13" y="563.5" font-size="12" fill="#1E222D" textLength="39.54" lengthAdjust="spacing" >0.6400</text>
<text x="1530.13" y="594.2" font-size="12" fill="#1E222D" textLength="39.54" lengthAdjust="spacing" >0.5800</text>
<text x="1530.13" y="628.2" font-size="12" fill="#1E222D" textLength="39.54" lengthAdjust="spacing" >0.5200</text>
<text x="1530.13" y="659.7" font-size="12" fill="#1E222D" textLength="39.54" lengthAdjust="spacing" >0.4700</text>
<text x="1530.13" y="691.1" font-size="12" fill="#1E222D" textLength="39.54" lengthAdjust="spacing" >0.4250</text>
<text x="1530.13" y="721.9" font-size="12" fill="#1E222D" textLength="39.54" lengthAdjust="spacing" >0.3850</text>
<g clip-path="url(#pane2)"><text x="1529.69" y="750.9" font-size="12" fill="#1E222D" textLength="39.98" lengthAdjust="spacing" >100.00</text></g>
<rect x="1524.8" y="29.7" width="62.5" height="24.3" rx="6" fill="#fff" stroke="#EBEDF2" stroke-width="1"/>
<text x="1532.57" y="45.8" font-size="12" fill="#1E222D" textLength="25.40" lengthAdjust="spacing" >USD</text>
<path d="M1522 122H1573Q1575 122 1575 124V136Q1575 138 1573 138H1522Z" fill="#800080"/><text x="1530.00" y="134.3" font-size="12" fill="#ffffff" textLength="39.83" lengthAdjust="spacing" >2.3806</text>
<path d="M1522 138H1573Q1575 138 1575 140V152Q1575 154 1573 154H1522Z" fill="#FFFF00"/><text x="1530.00" y="150.3" font-size="12" fill="#000000" textLength="39.83" lengthAdjust="spacing" >2.2738</text>
<path d="M1522 154H1573Q1575 154 1575 156V168Q1575 170 1573 170H1522Z" fill="#800000"/><text x="1530.00" y="166.3" font-size="12" fill="#ffffff" textLength="39.81" lengthAdjust="spacing" >2.2325</text>
<path d="M1522 170H1583Q1585 170 1585 172V197.5Q1585 199.5 1583 199.5H1522Z" fill="#089981"/>
<text x="1530.00" y="182.4" font-size="12" fill="#ffffff" textLength="39.77" lengthAdjust="spacing" >2.1720</text>
<text x="1529.69" y="195.5" font-size="12" fill="#ffffff" textLength="50.24" lengthAdjust="spacing" fill-opacity="0.72">14:56:06</text>
<clipPath id="tclip"><rect x="9.5" y="775" width="1581" height="26"/></clipPath><g clip-path="url(#tclip)">
<text x="16.5" y="793.2" font-size="11.6" text-anchor="middle" fill="#1E222D">Apr</text>
<text x="113.5" y="793.2" font-size="11.6" text-anchor="middle" fill="#1E222D">May</text>
<text x="213.5" y="793.2" font-size="11.6" text-anchor="middle" fill="#1E222D">Jun</text>
<text x="310" y="793.2" font-size="11.6" text-anchor="middle" fill="#1E222D">Jul</text>
<text x="410.5" y="793.2" font-size="11.6" text-anchor="middle" fill="#1E222D">Aug</text>
<text x="510.5" y="793.2" font-size="11.6" text-anchor="middle" fill="#1E222D">Sep</text>
<text x="606.5" y="793.2" font-size="11.6" text-anchor="middle" fill="#1E222D">Oct</text>
<text x="706.5" y="793.2" font-size="11.6" text-anchor="middle" fill="#1E222D">Nov</text>
<text x="803" y="793.2" font-size="11.6" text-anchor="middle" fill="#1E222D">Dec</text>
<text x="887.88" y="793.2" font-size="12" font-weight="bold" fill="#1E222D" textLength="30.75" lengthAdjust="spacing" >2025</text>
<text x="1003.5" y="793.2" font-size="11.6" text-anchor="middle" fill="#1E222D">Feb</text>
<text x="1093.5" y="793.2" font-size="11.6" text-anchor="middle" fill="#1E222D">Mar</text>
<text x="1193.5" y="793.2" font-size="11.6" text-anchor="middle" fill="#1E222D">Apr</text>
<text x="1289.5" y="793.2" font-size="11.6" text-anchor="middle" fill="#1E222D">May</text>
<text x="1390" y="793.2" font-size="11.6" text-anchor="middle" fill="#1E222D">Jun</text>
<text x="1486.5" y="793.2" font-size="11.6" text-anchor="middle" fill="#1E222D">Jul</text>
</g>
<text x="17.53" y="44.7" font-size="12" fill="#131722" textLength="173.79" lengthAdjust="spacing" >XRP / U.S. Dollar · 1D · BINANCE</text><text x="197.73" y="44.7" font-size="12" fill="#131722" textLength="10.04" lengthAdjust="spacing" >O</text><text x="207.10" y="44.7" font-size="12" fill="#089981" textLength="37.03" lengthAdjust="spacing" >2.1663</text><text x="250.42" y="44.7" font-size="12" fill="#131722" textLength="8.96" lengthAdjust="spacing" >H</text><text x="259.10" y="44.7" font-size="12" fill="#089981" textLength="35.63" lengthAdjust="spacing" >2.1773</text><text x="301.02" y="44.7" font-size="12" fill="#131722" textLength="6.68" lengthAdjust="spacing" >L</text><text x="307.90" y="44.7" font-size="12" fill="#089981" textLength="34.91" lengthAdjust="spacing" >2.1415</text><text x="348.79" y="44.7" font-size="12" fill="#131722" textLength="8.67" lengthAdjust="spacing" >C</text><text x="357.90" y="44.7" font-size="12" fill="#089981" textLength="35.57" lengthAdjust="spacing" >2.1720</text><text x="400.21" y="44.7" font-size="12" fill="#089981" textLength="99.93" lengthAdjust="spacing" >+0.0054 (+0.25%)</text><text x="17.26" y="61.4" font-size="12" fill="#131722" textLength="217.24" lengthAdjust="spacing" >SMAs (50, close, 100, close, 200, close)</text><text x="241.90" y="61.4" font-size="12" fill="#FFFF00" textLength="37.02" lengthAdjust="spacing" >2.2738</text><text x="285.50" y="61.4" font-size="12" fill="#800000" textLength="38.11" lengthAdjust="spacing" >2.2325</text><text x="330.30" y="61.4" font-size="12" fill="#800080" textLength="39.13" lengthAdjust="spacing" >2.3806</text>
<g fill="#000"><path d="M9.4 813.1H18.4V816.9H16.9V822.1H13.1V816.9H9.4Z"/><circle cx="20.4" cy="815.3" r="1.8"/><path d="M23.3 813.3H28.1L24.8 822.1H20.6Z"/></g>
<text x="32.02" y="822.5" font-size="12.3" fill="#1E222D" textLength="71.05" lengthAdjust="spacing" >TradingView</text>
</svg>
</body></html>
